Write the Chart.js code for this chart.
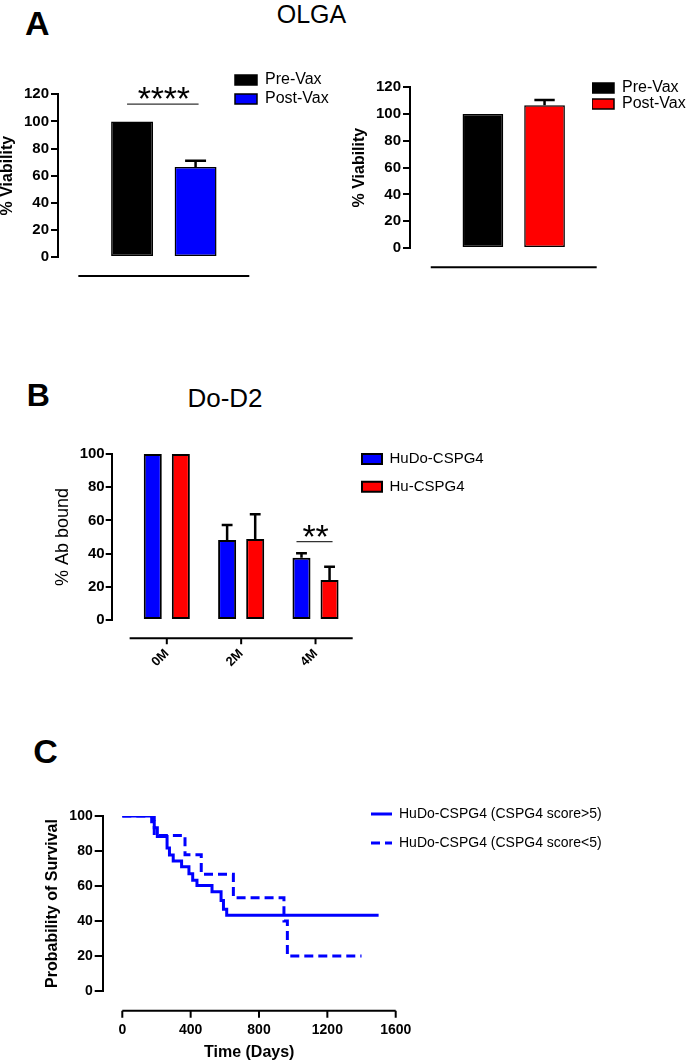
<!DOCTYPE html>
<html>
<head>
<meta charset="utf-8">
<title>OLGA / Do-D2 / survival</title>
<script src="https://cdn.jsdelivr.net/npm/chart.js@4.4.1/dist/chart.umd.min.js"></script>
<style>
  body { margin: 0; width: 692px; height: 1062px; position: relative; background: #fff; overflow: hidden;
         font-family: "Liberation Sans", Arial, sans-serif; }
  canvas, .lbl { position: absolute; }
  .lbl { line-height: 1; color: #000; white-space: nowrap; }
  .panel { font-weight: bold; }
  .mid { width: 200px; text-align: center; }
</style>
</head>
<body>
<div class="lbl panel" style="left:25px;top:5.6px;font-size:34px">A</div>
<div class="lbl mid" style="left:211.5px;top:1.7px;font-size:25px">OLGA</div>
<div class="lbl panel" style="left:26.7px;top:378.8px;font-size:32px">B</div>
<div class="lbl mid" style="left:125px;top:384.9px;font-size:26px">Do-D2</div>
<div class="lbl panel" style="left:33.3px;top:733.6px;font-size:34px">C</div>

<canvas id="aLeft" width="340" height="300" style="left:0;top:0"></canvas>
<canvas id="aRight" width="352" height="300" style="left:340px;top:0"></canvas>
<canvas id="bBound" width="692" height="320" style="left:0;top:370px"></canvas>
<canvas id="cSurv" width="692" height="342" style="left:0;top:720px"></canvas>

<script>
// ---- panel A : OLGA viability ----
const vaxLabels = ['Pre-Vax', 'Post-Vax'];
const leftPre = [100];
const leftPost = [66.4];
const leftPostSd = [4.6];
const rightPre = [100];
const rightPost = [106.6];
const rightPostSd = [3.9];
const viabilityTicks = [0, 20, 40, 60, 80, 100, 120];

// ---- panel B : Do-D2 ----
const monthLabels = ['0M', '2M', '4M'];
const boundLabels = ['HuDo-CSPG4', 'Hu-CSPG4'];
const huDoBound = [100, 48.2, 37.5];
const huDoSd = [0, 9, 2.7];
const huBound = [100, 48.8, 24.1];
const huSd = [0, 14.9, 8];
const boundTicks = [0, 20, 40, 60, 80, 100];

// ---- panel C : survival ----
const survLabels = ['HuDo-CSPG4 (CSPG4 score>5)', 'HuDo-CSPG4 (CSPG4 score<5)'];
const highDays = [0, 172, 187, 205, 262, 276, 298, 347, 390, 412, 437, 525, 578, 592, 611, 1500];
const highSurv = [100, 96.7, 93.3, 88.3, 81.7, 77.7, 74.3, 71, 67, 63.3, 60.3, 56.7, 51.7, 46.7, 43.3, 43.3];
const lowDays = [0, 187, 367, 462, 650, 946, 966, 1400];
const lowSurv = [100, 88.9, 77.8, 66.7, 53.3, 40, 20, 20];
const dayTicks = [0, 400, 800, 1200, 1600];
const survTicks = [0, 20, 40, 60, 80, 100];

Chart.defaults.font.family = '"Liberation Sans", Arial, sans-serif';
Chart.defaults.color = '#000';
Chart.defaults.animation = false;
Chart.defaults.plugins.tooltip.enabled = false;

// x axis drawn a little below the plot, Prism style
const offsetAxis = {
  id: 'offsetAxis',
  afterDraw(chart, args, o) {
    const x = chart.scales.x, ctx = chart.ctx;
    const y0 = chart.chartArea.bottom + o.gap;
    ctx.save();
    ctx.strokeStyle = '#000';
    ctx.lineWidth = 2;
    ctx.beginPath();
    ctx.moveTo(x.getPixelForValue(o.from), y0);
    ctx.lineTo(x.getPixelForValue(o.to), y0);
    o.ticks.forEach(v => {
      const px = x.getPixelForValue(v);
      ctx.moveTo(px, y0);
      ctx.lineTo(px, y0 + o.tick);
    });
    ctx.stroke();
    ctx.restore();
  }
};

// upper SD whiskers + significance bars
const errorBars = {
  id: 'errorBars',
  afterDatasetsDraw(chart, args, o) {
    const ctx = chart.ctx, y = chart.scales.y;
    ctx.save();
    ctx.strokeStyle = '#000';
    ctx.lineWidth = 2.5;
    chart.data.datasets.forEach((ds, di) => {
      if (!ds.errors) return;
      chart.getDatasetMeta(di).data.forEach((bar, i) => {
        const sd = ds.errors[i];
        if (!sd) return;
        const top = y.getPixelForValue(ds.data[i].y + sd);
        const half = bar.width * o.cap / 2;
        ctx.beginPath();
        ctx.moveTo(bar.x, bar.y);
        ctx.lineTo(bar.x, top);
        ctx.moveTo(bar.x - half, top);
        ctx.lineTo(bar.x + half, top);
        ctx.stroke();
      });
    });
    o.marks.forEach(m => {
      const a = chart.getDatasetMeta(0).data[m.index];
      const b = chart.getDatasetMeta(1).data[m.index];
      const ly = y.getPixelForValue(m.level);
      ctx.lineWidth = 1.2;
      ctx.strokeStyle = '#333';
      ctx.beginPath();
      ctx.moveTo(a.x - 5, ly);
      ctx.lineTo(b.x + 3, ly);
      ctx.stroke();
      ctx.fillStyle = '#000';
      ctx.font = '34px "Liberation Sans", Arial';
      ctx.textAlign = 'center';
      ctx.textBaseline = 'alphabetic';
      const cx = (a.x + b.x) / 2;
      const n = m.text.length;
      for (let k = 0; k < n; k++) {
        ctx.fillText(m.text[k], cx + (k - (n - 1) / 2) * 13, ly + 6);
      }
    });
    ctx.restore();
  }
};

// put the legend where the figure has it
const placeLegend = {
  id: 'placeLegend',
  afterLayout(chart, args, o) {
    const lg = chart.legend;
    const pad = lg.options.labels.padding;
    const fs = lg.options.labels.font.size;
    const w = lg.width, h = lg.height;
    lg.left = o.x - pad;
    lg.top = o.y - pad - fs / 2;
    lg.right = lg.left + w;
    lg.bottom = lg.top + h;
  }
};

function toPoints(vals) {
  return vals.map((v, i) => ({x: i, y: v}));
}

function valueAxis(ticks, max, width, text, titleFont, tickLen, tickPad, tickSize) {
  return {
    min: 0,
    max: max,
    afterBuildTicks: s => { s.ticks = ticks.map(v => ({value: v})); },
    afterFit: s => { s.width = width; },
    border: {display: true, color: '#000', width: 2},
    grid: {drawOnChartArea: false, color: '#000', lineWidth: 2, tickLength: tickLen},
    ticks: {font: {size: tickSize, weight: 'bold'}, padding: tickPad},
    title: {display: true, text: text, font: titleFont, padding: 0}
  };
}

function groupAxis(min, max, edges, height) {
  return {
    type: 'linear', offset: false, min: min, max: max,
    afterBuildTicks: s => { s.ticks = edges.map(v => ({value: v})); },
    afterFit: s => { s.height = height; },
    grid: {display: false, drawTicks: false},
    border: {display: false},
    ticks: {display: false}
  };
}

function vaxChart(id, pre, post, postSd, postColor, pad, xMin, gap, legendAt, legendPad, marks) {
  return new Chart(document.getElementById(id), {
    type: 'bar',
    data: {
      datasets: [
        {label: vaxLabels[0], data: toPoints(pre), backgroundColor: '#000', borderColor: '#000', borderWidth: 1.5},
        {label: vaxLabels[1], data: toPoints(post), errors: postSd, backgroundColor: postColor, borderColor: '#000', borderWidth: 1.5}
      ]
    },
    plugins: [offsetAxis, errorBars, placeLegend],
    options: {
      responsive: false,
      events: [],
      layout: {padding: pad},
      datasets: {bar: {categoryPercentage: 0.743, barPercentage: 0.66, borderSkipped: false}},
      scales: {
        x: groupAxis(xMin, 0.5, [-0.5, 0.5], 30),
        y: valueAxis(viabilityTicks, 120, 58, '% Viability', {size: 16, weight: 'bold', lineHeight: 1}, 7, 2, 15)
      },
      plugins: {
        legend: {position: 'chartArea', align: 'start',
                 labels: {boxWidth: 22, boxHeight: 10, padding: legendPad, font: {size: 16}}},
        placeLegend: legendAt,
        offsetAxis: {gap: gap, from: -0.5, to: 0.5, ticks: [], tick: 0},
        errorBars: {cap: 0.5, marks: marks}
      }
    }
  });
}

vaxChart('aLeft', leftPre, leftPost, leftPostSd, '#0000ff',
  {left: 0, top: 94.3, right: 90.7, bottom: 13}, -0.619, 19, {x: 235, y: 80}, 3,
  [{index: 0, level: 112.8, text: '****'}]);

vaxChart('aRight', rightPre, rightPost, rightPostSd, '#ff0000',
  {left: 12, top: 87.3, right: 95.3, bottom: 22}, -0.625, 19.3, {x: 252, y: 88}, 0, []);

new Chart(document.getElementById('bBound'), {
  type: 'bar',
  data: {
    datasets: [
      {label: boundLabels[0], data: toPoints(huDoBound), errors: huDoSd, backgroundColor: '#0000ff', borderColor: '#000', borderWidth: 2},
      {label: boundLabels[1], data: toPoints(huBound), errors: huSd, backgroundColor: '#ff0000', borderColor: '#000', borderWidth: 2}
    ]
  },
  plugins: [offsetAxis, errorBars, placeLegend],
  options: {
    responsive: false,
    events: [],
    layout: {padding: {left: 54, top: 84, right: 339.3, bottom: 10}},
    datasets: {bar: {categoryPercentage: 0.755, barPercentage: 0.643, borderSkipped: false}},
    scales: {
      x: {
        type: 'linear', offset: false, min: -0.741, max: 2.5,
        afterBuildTicks: s => { s.ticks = monthLabels.map((m, i) => ({value: i})); },
        afterFit: s => { s.height = 60; },
        grid: {display: false, drawTicks: false},
        border: {display: false},
        ticks: {font: {size: 13, weight: 'bold'}, padding: 26, minRotation: 45, maxRotation: 45,
                autoSkip: false, callback: v => monthLabels[v]}
      },
      y: valueAxis(boundTicks, 100, 57.7, '% Ab bound', {size: 18, lineHeight: 1}, 6, 1, 15)
    },
    plugins: {
      legend: {position: 'chartArea', align: 'start',
               labels: {boxWidth: 20, boxHeight: 10, padding: 12.7, font: {size: 15}}},
      placeLegend: {x: 362, y: 89},
      offsetAxis: {gap: 18.3, from: -0.5, to: 2.5, ticks: [0, 1, 2], tick: 6},
      errorBars: {cap: 0.6, marks: [{index: 2, level: 47.2, text: '**'}]}
    }
  }
});

// legend items take dash / width from the dataset line, not the point
function lineLegendLabels(chart) {
  return Chart.defaults.plugins.legend.labels.generateLabels(chart).map((item, i) => {
    const ds = chart.data.datasets[i];
    return Object.assign(item, {lineDash: ds.borderDash || [], lineWidth: ds.borderWidth, strokeStyle: ds.borderColor});
  });
}

new Chart(document.getElementById('cSurv'), {
  type: 'line',
  data: {
    datasets: [
      {label: survLabels[0], data: highDays.map((d, i) => ({x: d, y: highSurv[i]})),
       borderColor: '#0000ff', backgroundColor: '#0000ff', borderWidth: 3, stepped: true, pointRadius: 0, fill: false},
      {label: survLabels[1], data: lowDays.map((d, i) => ({x: d, y: lowSurv[i]})),
       borderColor: '#0000ff', backgroundColor: '#0000ff', borderWidth: 3, borderDash: [9, 5], stepped: true, pointRadius: 0, fill: false}
    ]
  },
  plugins: [offsetAxis, placeLegend],
  options: {
    responsive: false,
    events: [],
    layout: {padding: {left: 45, top: 96, right: 296.3, bottom: 1}},
    scales: {
      x: {
        type: 'linear', min: -114.7, max: 1600,
        afterBuildTicks: s => { s.ticks = dayTicks.map(v => ({value: v})); },
        afterFit: s => { s.height = 70; },
        grid: {display: false, drawTicks: false},
        border: {display: false},
        ticks: {font: {size: 14, weight: 'bold'}, padding: 30.6, maxRotation: 0, autoSkip: false, callback: v => String(v)},
        title: {display: true, text: 'Time (Days)', font: {size: 16, weight: 'bold', lineHeight: 1}, padding: 0}
      },
      y: valueAxis(survTicks, 100, 57.7, 'Probability of Survival', {size: 16, weight: 'bold', lineHeight: 1}, 8, 2, 14)
    },
    plugins: {
      legend: {position: 'chartArea', align: 'start',
               labels: {usePointStyle: true, pointStyle: 'line', pointStyleWidth: 21, padding: 15, font: {size: 14},
                        generateLabels: lineLegendLabels}},
      placeLegend: {x: 371, y: 94},
      offsetAxis: {gap: 19.7, from: 0, to: 1600, ticks: dayTicks, tick: 7}
    }
  }
});
</script>
</body>
</html>
